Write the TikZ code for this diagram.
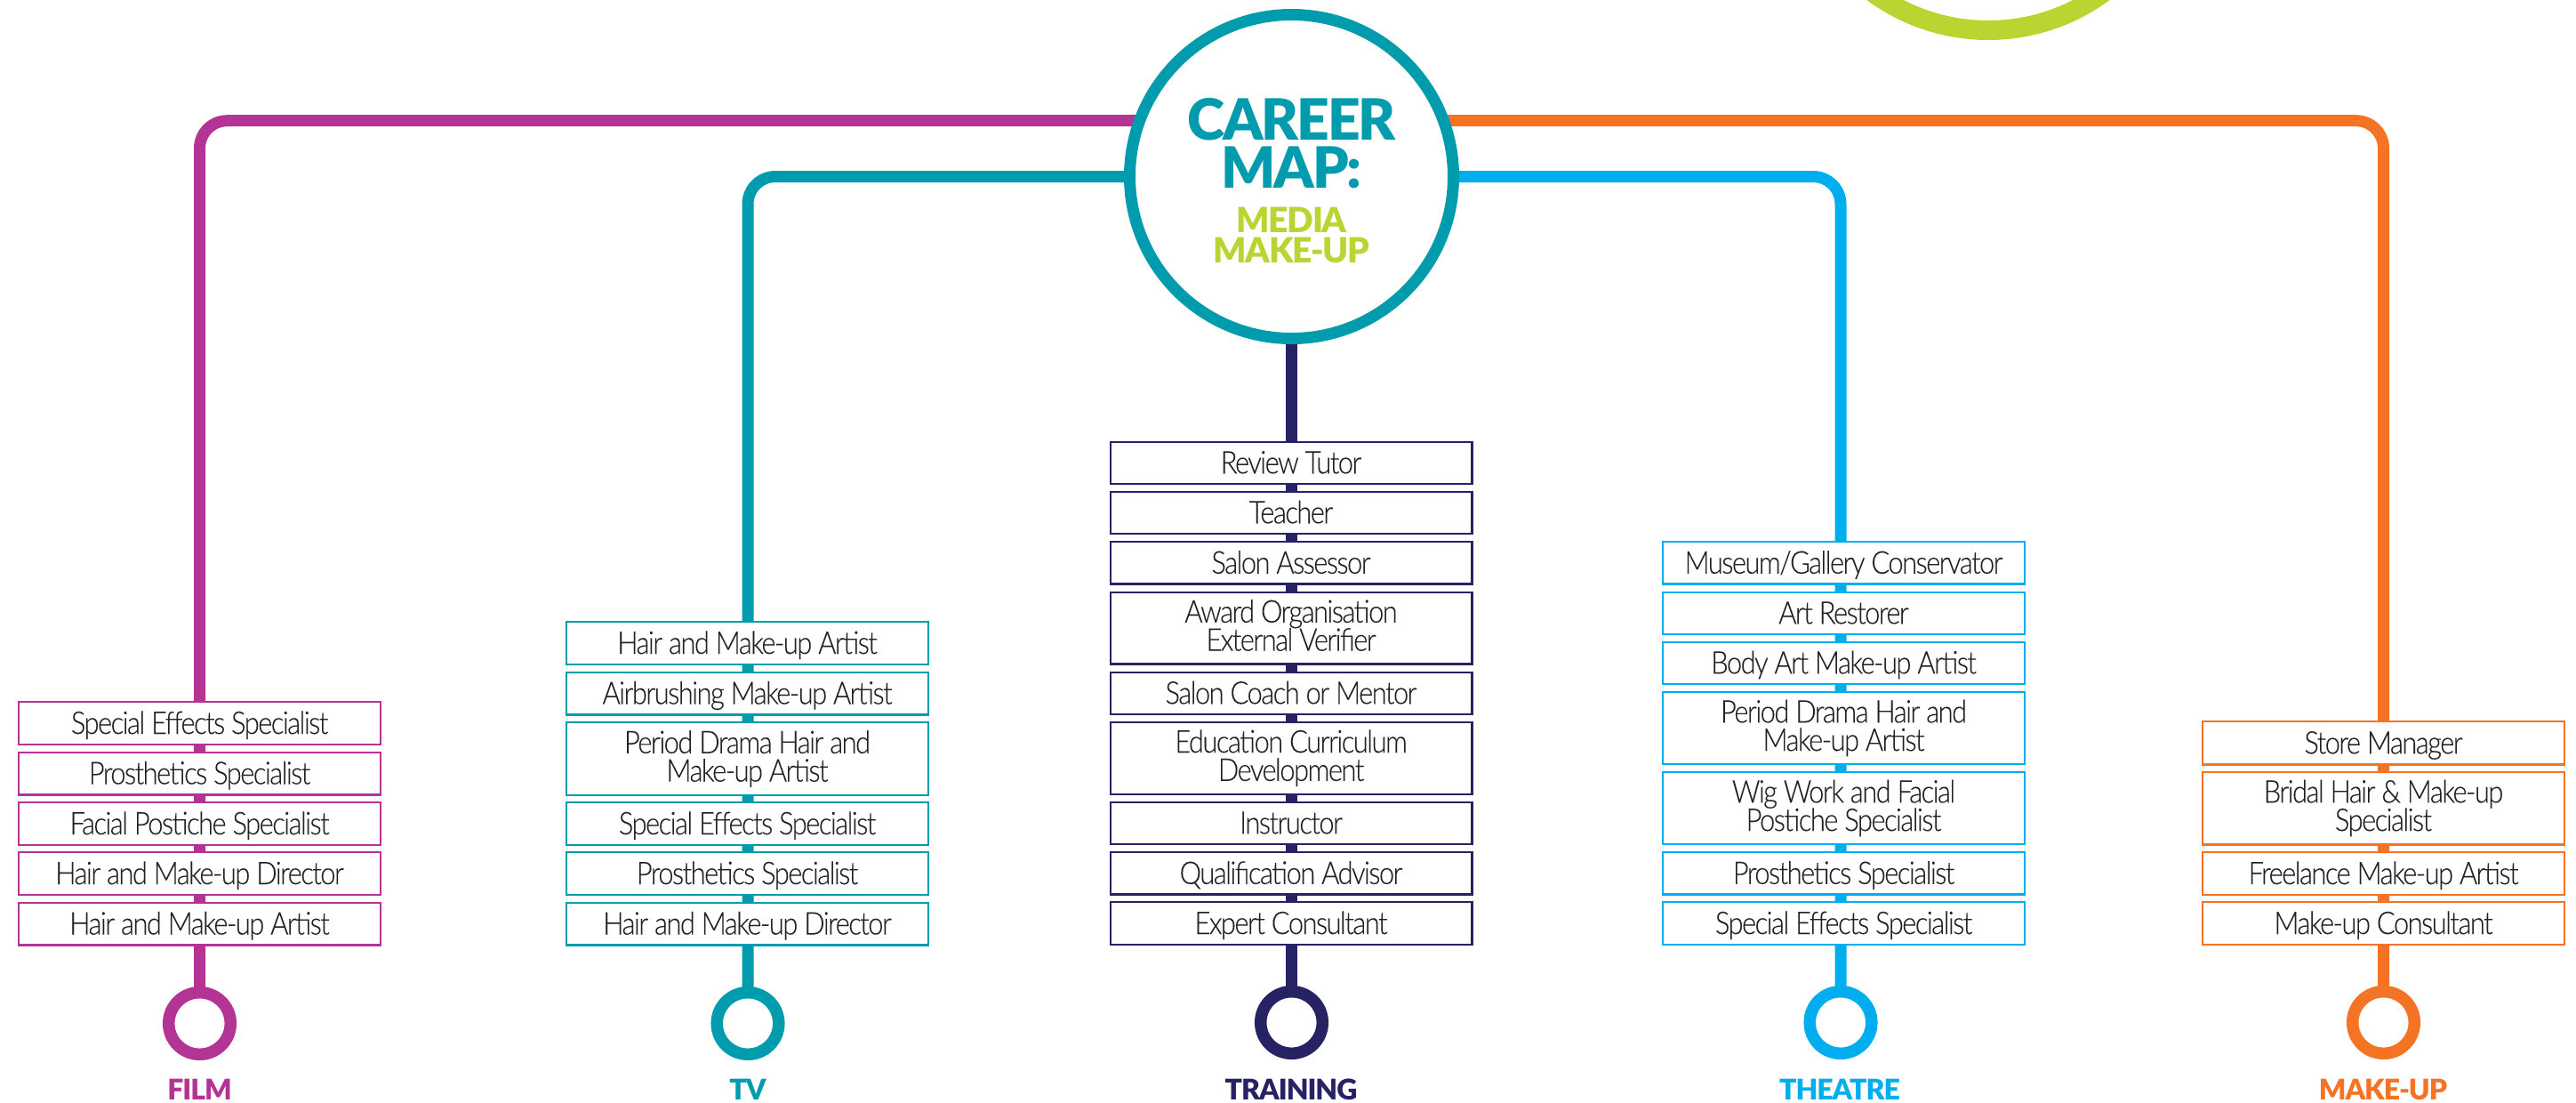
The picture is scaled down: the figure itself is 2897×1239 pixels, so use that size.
\documentclass[tikz,border=0pt]{standalone}
\usepackage{fontspec}
\usetikzlibrary{backgrounds}
\newfontfamily\boxfont[LetterSpace=-4.5,FakeStretch=0.88,FakeBold=0.1]{Lato Light}
\newfontfamily\titlefont[LetterSpace=-3.3]{Lato Black}
\definecolor{cfilm}{HTML}{B33494}
\definecolor{ctv}{HTML}{009CAD}
\definecolor{ctrain}{HTML}{272264}
\definecolor{ctheatre}{HTML}{00AEEF}
\definecolor{cmake}{HTML}{F47324}
\definecolor{cgreen}{HTML}{BAD532}
\definecolor{cink}{HTML}{232221}
\tikzset{
  cbox/.style={draw=#1,fill=white,line width=1.1pt,inner sep=0pt,minimum width=203.4pt,text=cink,
    font=\boxfont\fontsize{17.6}{17.6}\selectfont},
  route/.style={draw=#1,line width=6.5pt,rounded corners=15.5pt},
  terminus/.style={circle,draw=#1,fill=white,line width=6.75pt,inner sep=0pt,minimum size=34.8pt},
  hubcircle/.style={circle,draw=ctv,fill=white,line width=6.5pt,inner sep=0pt,minimum size=182pt},
  catlabel/.style={anchor=base,text=#1,font=\titlefont\fontsize{16}{16}\selectfont},
  titleblock/.style={text=#1,inner sep=0pt,align=center},
}
\newcommand{\oneln}[1]{\raisebox{-6pt}[0pt][0pt]{\makebox[0pt]{#1}}}
\newcommand{\twoln}[2]{\raisebox{3.1pt}[0pt][0pt]{\makebox[0pt]{#1}}\raisebox{-12.8pt}[0pt][0pt]{\makebox[0pt]{#2}}}
\newcommand{\cbx}[6]{\pgfmathsetmacro{\cyy}{(#3+#4)/2}\pgfmathsetmacro{\chh}{(#4-#3)*0.5-1.1}
  \node[cbox=#5,minimum height=\chh pt] (#1) at (#2,\cyy) {#6};}
\begin{document}
\begin{tikzpicture}[x=0.5pt,y=-0.5pt]
\useasboundingbox (0,0) rectangle (2897,1239);
\clip (0,0) rectangle (2897,1239);
% decorative ring cropped by the top edge
\draw[cgreen,line width=11pt] (2236,-185) circle[radius=219];

\node[hubcircle] (hub) at (1452.5,198.5) {};
\coordinate (hubupper) at (1452.5,135.7);
\node[titleblock=ctv,font=\titlefont\fontsize{32}{27}\selectfont] (t1) at (1452.5,161.5) {CAREER\\MAP:};
\node[titleblock=cgreen,font=\titlefont\fontsize{19.5}{17.3}\selectfont] (t3) at (1452.5,264.5) {MEDIA\\MAKE-UP};

% termini
\node[terminus=cfilm] (endfilm) at (224.5,1150.5) {};
\node[terminus=ctv] (endtv) at (841,1150.5) {};
\node[terminus=ctrain] (endtrain) at (1452.5,1149.5) {};
\node[terminus=ctheatre] (endtheatre) at (2070,1149.5) {};
\node[terminus=cmake] (endmake) at (2680.5,1149.5) {};
\node[catlabel=cfilm] (lfilm) at (224.5,1236) {FILM};
\node[catlabel=ctv] (ltv) at (841,1236) {TV};
\node[catlabel=ctrain] (ltrain) at (1452,1236) {TRAINING};
\node[catlabel=ctheatre] (ltheatre) at (2069,1236) {THEATRE};
\node[catlabel=cmake] (lmake) at (2680,1236) {MAKE-UP};

% FILM
\cbx{fa}{224.5}{788}{838}{cfilm}{\oneln{Special Effects Specialist}}
\cbx{fb}{224.5}{844.5}{894.5}{cfilm}{\oneln{Prosthetics Specialist}}
\cbx{fc}{224.5}{901}{951}{cfilm}{\oneln{Facial Postiche Specialist}}
\cbx{fd}{224.5}{957}{1007}{cfilm}{\oneln{Hair and Make-up Director}}
\cbx{fe}{224.5}{1013.5}{1063.5}{cfilm}{\oneln{Hair and Make-up Artist}}
% TV
\cbx{va}{840.5}{698}{748}{ctv}{\oneln{Hair and Make-up Artist}}
\cbx{vb}{840.5}{754.5}{804.5}{ctv}{\oneln{Airbrushing Make-up Artist}}
\cbx{vc}{840.5}{811}{895}{ctv}{\twoln{Period Drama Hair and}{Make-up Artist}}
\cbx{vd}{840.5}{901}{951}{ctv}{\oneln{Special Effects Specialist}}
\cbx{ve}{840.5}{957}{1007}{ctv}{\oneln{Prosthetics Specialist}}
\cbx{vf}{840.5}{1013.5}{1063.5}{ctv}{\oneln{Hair and Make-up Director}}
% TRAINING
\cbx{ta}{1452}{495.5}{545}{ctrain}{\oneln{Review Tutor}}
\cbx{tb}{1452}{551.5}{601}{ctrain}{\oneln{Teacher}}
\cbx{tc}{1452}{608}{657.5}{ctrain}{\oneln{Salon Assessor}}
\cbx{td}{1452}{664.5}{747.5}{ctrain}{\twoln{Award Organisation}{External Verifier}}
\cbx{te}{1452}{754.5}{804}{ctrain}{\oneln{Salon Coach or Mentor}}
\cbx{tf}{1452}{810.5}{894}{ctrain}{\twoln{Education Curriculum}{Development}}
\cbx{tg}{1452}{900.5}{950}{ctrain}{\oneln{Instructor}}
\cbx{th}{1452}{957}{1006.5}{ctrain}{\oneln{Qualification Advisor}}
\cbx{ti}{1452}{1013}{1063}{ctrain}{\oneln{Expert Consultant}}
% THEATRE
\cbx{ha}{2073.5}{608}{657.5}{ctheatre}{\oneln{Museum/Gallery Conservator}}
\cbx{hb}{2073.5}{664.5}{714}{ctheatre}{\oneln{Art Restorer}}
\cbx{hc}{2073.5}{720.5}{770}{ctheatre}{\oneln{Body Art Make-up Artist}}
\cbx{hd}{2073.5}{777}{860}{ctheatre}{\twoln{Period Drama Hair and}{Make-up Artist}}
\cbx{he}{2073.5}{867}{950}{ctheatre}{\twoln{Wig Work and Facial}{Postiche Specialist}}
\cbx{hf}{2073.5}{957}{1006.5}{ctheatre}{\oneln{Prosthetics Specialist}}
\cbx{hg}{2073.5}{1013}{1063}{ctheatre}{\oneln{Special Effects Specialist}}
% MAKE-UP
\cbx{ma}{2680.5}{810}{860.5}{cmake}{\oneln{Store Manager}}
\cbx{mb}{2680.5}{866.5}{950.5}{cmake}{\twoln{Bridal Hair \& Make-up}{Specialist}}
\cbx{mc}{2680.5}{957}{1007}{cmake}{\oneln{Freelance Make-up Artist}}
\cbx{md}{2680.5}{1013}{1063}{cmake}{\oneln{Make-up Consultant}}

\begin{scope}[on background layer]
  \draw[route=cfilm] (hubupper) -| (endfilm.center);
  \draw[route=ctv] (hub.center) -| (endtv.center);
  \draw[route=ctrain] (hub.center) -- (endtrain.center);
  \draw[route=ctheatre] (hub.center) -| (endtheatre.center);
  \draw[route=cmake] (hubupper) -| (endmake.center);
\end{scope}
\end{tikzpicture}
\end{document}
